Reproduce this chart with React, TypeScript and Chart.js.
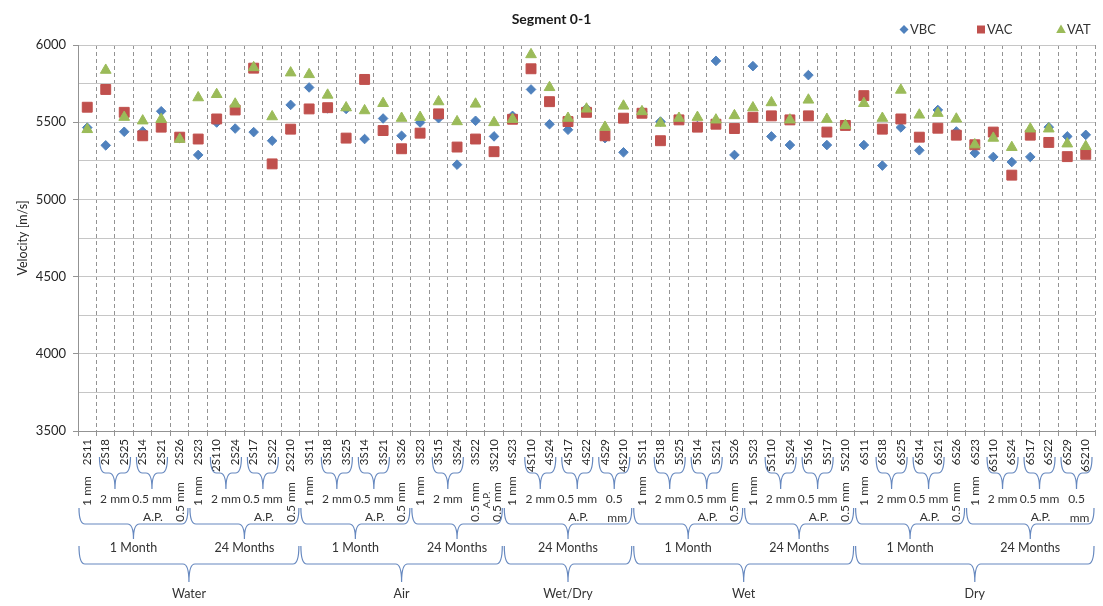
import React, { useEffect, useRef } from 'react';
import { Chart, registerables } from 'chart.js';

Chart.register(...registerables);

const categories = [
  '2S11', '2S18', '2S25', '2S14', '2S21', '2S26', '2S23', '2S110', '2S24', '2S17', '2S22', '2S210',
  '3S11', '3S18', '3S25', '3S14', '3S21', '3S26', '3S23', '3S15', '3S24', '3S22', '3S210',
  '4S23', '4S110', '4S24', '4S17', '4S22', '4S29', '4S210',
  '5S11', '5S18', '5S25', '5S14', '5S21', '5S26', '5S23', '5S110', '5S24', '5S16', '5S17', '5S210',
  '6S11', '6S18', '6S25', '6S14', '6S21', '6S26', '6S23', '6S110', '6S24', '6S17', '6S22', '6S29', '6S210',
];

const vbcValues = [
  5465, 5350, 5438, 5440, 5571, 5398, 5288, 5498, 5459, 5436, 5380, 5612,
  5725, 5590, 5586, 5391, 5524, 5412, 5498, 5526, 5225, 5509, 5408,
  5541, 5712, 5487, 5451, 5588, 5397, 5305,
  5569, 5504, 5519, 5475, 5897, 5288, 5863, 5408, 5352, 5805, 5352, 5483,
  5352, 5219, 5466, 5318, 5579, 5440, 5300, 5275, 5242, 5275, 5468, 5408, 5418,
];

const vacValues = [
  5597, 5712, 5564, 5412, 5468, 5403, 5391, 5521, 5579, 5850, 5230, 5455,
  5586, 5594, 5397, 5777, 5446, 5328, 5429, 5554, 5339, 5391, 5309,
  5519, 5846, 5633, 5504, 5564, 5412, 5526,
  5558, 5380, 5515, 5468, 5487, 5459, 5532, 5541, 5515, 5541, 5436, 5479,
  5672, 5455, 5521, 5403, 5461, 5416, 5354, 5436, 5157, 5416, 5369, 5277, 5292,
];

const vatValues = [
  5453, 5837, 5532, 5509, 5519, 5390, 5659, 5680, 5618, 5854, 5536, 5820,
  5809, 5676, 5594, 5575, 5622, 5526, 5532, 5633, 5504, 5618, 5498,
  5519, 5938, 5725, 5526, 5586, 5468, 5605,
  5569, 5494, 5526, 5532, 5515, 5543, 5594, 5627, 5515, 5644, 5519, 5479,
  5622, 5526, 5708, 5547, 5558, 5521, 5354, 5397, 5337, 5457, 5457, 5360, 5343,
];

const seriesNames = ['VBC', 'VAC', 'VAT'];
const seriesColors = ['#4F81BD', '#C0504D', '#9BBB59'];

// level 1: [label, first index, last index]
const sizeGroups: [string, number, number][] = [
  ['1 mm', 0, 0], ['2 mm', 1, 2], ['0.5 mm', 3, 4], ['0.5 mm', 5, 5],
  ['1 mm', 6, 6], ['2 mm', 7, 8], ['0.5 mm', 9, 10], ['0.5 mm', 11, 11],
  ['1 mm', 12, 12], ['2 mm', 13, 14], ['0.5 mm', 15, 16], ['0.5 mm', 17, 17],
  ['1 mm', 18, 18], ['2 mm', 19, 20], ['0.5 mm', 21, 21], ['0.5 mm', 22, 22],
  ['1 mm', 23, 23], ['2 mm', 24, 25], ['0.5 mm', 26, 27], ['0.5|mm', 28, 29],
  ['1 mm', 30, 30], ['2 mm', 31, 32], ['0.5 mm', 33, 34], ['0.5 mm', 35, 35],
  ['1 mm', 36, 36], ['2 mm', 37, 38], ['0.5 mm', 39, 40], ['0.5 mm', 41, 41],
  ['1 mm', 42, 42], ['2 mm', 43, 44], ['0.5 mm', 45, 46], ['0.5 mm', 47, 47],
  ['1 mm', 48, 48], ['2 mm', 49, 50], ['0.5 mm', 51, 52], ['0.5|mm', 53, 54],
];

const apGroups: [number, number][] = [
  [3, 4], [9, 10], [15, 16], [22, 22], [26, 27], [33, 34], [39, 40], [45, 46], [51, 52],
];

const monthGroups: [string, number, number][] = [
  ['1 Month', 0, 5], ['24 Months', 6, 11], ['1 Month', 12, 17], ['24 Months', 18, 22],
  ['24 Months', 23, 29], ['1 Month', 30, 35], ['24 Months', 36, 41], ['1 Month', 42, 47],
  ['24 Months', 48, 54],
];

const mediumGroups: [string, number, number][] = [
  ['Water', 0, 11], ['Air', 12, 22], ['Wet/Dry', 23, 29], ['Wet', 30, 41], ['Dry', 42, 54],
];

const FONT = 'Lato, "Open Sans", "Liberation Sans", sans-serif';
const TEXT = '#333333';
const BRACE = '#6688bf';

function brace(ctx: CanvasRenderingContext2D, x0: number, x1: number, yTop: number, yMid: number, yTip: number) {
  const xc = (x0 + x1) / 2;
  const r = Math.min(6, (x1 - x0) / 5);
  ctx.beginPath();
  ctx.moveTo(x0, yTop);
  ctx.quadraticCurveTo(x0, yMid, x0 + r, yMid);
  ctx.lineTo(xc - r, yMid);
  ctx.quadraticCurveTo(xc, yMid, xc, yTip);
  ctx.quadraticCurveTo(xc, yMid, xc + r, yMid);
  ctx.lineTo(x1 - r, yMid);
  ctx.quadraticCurveTo(x1, yMid, x1, yTop);
  ctx.stroke();
}

function vText(ctx: CanvasRenderingContext2D, text: string, x: number, y: number) {
  ctx.save();
  ctx.translate(x, y);
  ctx.rotate(-Math.PI / 2);
  ctx.fillText(text, 0, 0);
  ctx.restore();
}

const bracketPlugin = {
  id: 'bracketLabels',
  afterDraw(chart: any) {
    const ctx: CanvasRenderingContext2D = chart.ctx;
    const xs = chart.scales.x;
    const cx = (i: number) => xs.getPixelForValue(i);
    const half = (cx(1) - cx(0)) / 2;
    ctx.save();
    ctx.strokeStyle = BRACE;
    ctx.lineWidth = 1.2;
    ctx.fillStyle = TEXT;
    ctx.textAlign = 'center';
    ctx.textBaseline = 'middle';
    ctx.font = `12px ${FONT}`;

    // level 1
    sizeGroups.forEach(([label, a, b]) => {
      if (a === b) {
        const y = label === '1 mm' ? 491 : 502;
        const dx = a === 22 ? 3 : 0;
        vText(ctx, label, cx(a) + dx, y);
      } else {
        const x0 = cx(a) - half + 3;
        const x1 = cx(b) + half - 3;
        brace(ctx, x0, x1, 457, 473, 489);
        const xc = (x0 + x1) / 2;
        if (label.includes('|')) {
          const [p1, p2] = label.split('|');
          ctx.fillText(p1, xc, 499);
          ctx.fillText(p2, xc + 3, 518);
        } else {
          ctx.fillText(label, xc, 499);
        }
      }
    });

    // A.P.
    apGroups.forEach(([a, b]) => {
      if (a === b) {
        ctx.save();
        ctx.font = `10px ${FONT}`;
        vText(ctx, 'A.P.', cx(a) - 7, 500);
        ctx.restore();
      } else {
        ctx.fillText('A.P.', (cx(a) + cx(b)) / 2 + 1, 517);
      }
    });

    ctx.font = `12.5px ${FONT}`;
    // level 2
    monthGroups.forEach(([label, a, b]) => {
      const x0 = cx(a) - half + 1;
      const x1 = cx(b) + half - 1;
      brace(ctx, x0, x1, 508, 524, 539);
      ctx.fillText(label, (x0 + x1) / 2, 548);
    });

    // level 3
    mediumGroups.forEach(([label, a, b]) => {
      const x0 = cx(a) - half + 1;
      const x1 = cx(b) + half - 1;
      brace(ctx, x0, x1, 546, 564, 582);
      ctx.fillText(label, (x0 + x1) / 2, 594);
    });

    // legend
    ctx.font = `13px ${FONT}`;
    ctx.textAlign = 'left';
    const legendX = [904, 981, 1061];
    const ly = 29.5;
    seriesNames.forEach((name, i) => {
      const x = legendX[i];
      ctx.fillStyle = seriesColors[i];
      ctx.beginPath();
      if (i === 0) {
        ctx.moveTo(x - 4.5, ly); ctx.lineTo(x, ly - 4.5); ctx.lineTo(x + 4.5, ly); ctx.lineTo(x, ly + 4.5);
      } else if (i === 1) {
        ctx.rect(x - 4, ly - 4, 8, 8);
      } else {
        ctx.moveTo(x, ly - 5); ctx.lineTo(x + 4.8, ly + 3.5); ctx.lineTo(x - 4.8, ly + 3.5);
      }
      ctx.closePath();
      ctx.fill();
      ctx.fillStyle = TEXT;
      ctx.fillText(name, x + 6, ly);
    });
    ctx.restore();
  },
};

export default function App() {
  const ref = useRef<HTMLCanvasElement>(null);
  useEffect(() => {
    if (!ref.current) return;
    const seriesValues = [vbcValues, vacValues, vatValues];
    const styles = ['rectRot', 'rect', 'triangle'];
    const radii = [4.8, 7, 6.2];
    const chart = new Chart(ref.current, {
      type: 'line',
      data: {
        labels: categories,
        datasets: seriesNames.map((name, i) => ({
          label: name,
          data: seriesValues[i],
          showLine: false,
          pointStyle: styles[i] as any,
          pointRadius: radii[i],
          pointBackgroundColor: seriesColors[i],
          pointBorderColor: seriesColors[i],
          pointBorderWidth: 1,
          backgroundColor: seriesColors[i],
          borderColor: seriesColors[i],
          order: 3 - i,
        })),
      },
      options: {
        responsive: false,
        animation: false,
        events: [],
        layout: { padding: 0 },
        plugins: {
          legend: { display: false },
          tooltip: { enabled: false },
          title: {
            display: true,
            text: 'Segment 0-1',
            color: '#1a1a1a',
            font: { family: FONT, size: 14, weight: 'bold' },
            padding: { top: 11, bottom: 17.2 },
          },
        },
        scales: {
          x: {
            type: 'category',
            offset: true,
            grid: {
              offset: true,
              color: '#939393',
              lineWidth: 1,
              drawTicks: true,
              tickLength: 5,
              tickColor: '#939393',
              tickWidth: 1,
            },
            border: { display: true, color: '#939393', width: 1, dash: [4, 3] },
            ticks: {
              autoSkip: false,
              maxRotation: 90,
              minRotation: 90,
              padding: 3,
              color: '#262626',
              font: { family: FONT, size: 11.5 },
            },
            afterFit: (s: any) => {
              s.height = 175;
              s.paddingRight = 0;
              s.paddingLeft = 0;
            },
          },
          y: {
            min: 3500,
            max: 6000,
            ticks: {
              stepSize: 250,
              autoSkip: false,
              padding: 7,
              color: '#262626',
              font: { family: FONT, size: 13 },
              callback: (v: any) => (Number(v) % 500 === 0 ? String(v) : ''),
            },
            grid: {
              color: '#c6c6c6',
              lineWidth: 1,
              tickLength: 5,
              tickColor: (c: any) => (c.tick && c.tick.value % 500 === 0 ? '#939393' : 'rgba(0,0,0,0)'),
            },
            border: { color: '#939393' },
            title: {
              display: true,
              text: 'Velocity [m/s]',
              color: '#262626',
              font: { family: FONT, size: 12.5 },
              padding: { top: 15, bottom: 0 },
            },
            afterFit: (s: any) => {
              s.width = 78;
            },
          },
        },
      } as any,
      plugins: [bracketPlugin],
    });
    return () => chart.destroy();
  }, []);

  return (
    <div style={{ position: 'fixed', left: 0, top: 0, width: 1103, height: 606, overflow: 'hidden', background: '#fff' }}>
      <canvas ref={ref} width={1103} height={606} style={{ display: 'block', width: 1103, height: 606 }} />
    </div>
  );
}
